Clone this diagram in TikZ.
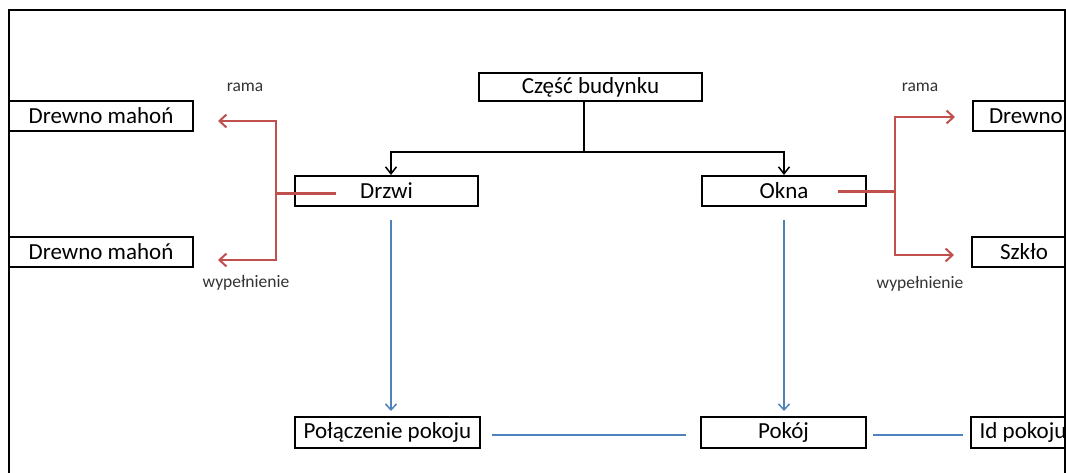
\documentclass[tikz,border=0pt]{standalone}
\usepackage{fontspec}
\setmainfont{Carlito}
\usetikzlibrary{arrows.meta,calc}
\definecolor{ramared}{RGB}{192,80,77}
\definecolor{linkblue}{RGB}{79,129,189}
\begin{document}
\begin{tikzpicture}[x=1pt, y=-1pt,
  box/.style={draw, line width=2pt, minimum height=30pt, inner sep=0pt, font=\fontsize{23}{27}\selectfont},
  lbl/.style={font=\fontsize{17.5}{20}\selectfont, text=black!80},
  redline/.style={draw=ramared, line width=2pt, -{Straight Barb[length=7pt,width=13pt]}},
  blueline/.style={draw=linkblue, line width=1.5pt, -{Straight Barb[length=6pt,width=11pt]}},
  treeline/.style={draw=black, line width=1.5pt, -{Straight Barb[length=7pt,width=11pt]}}]
\useasboundingbox (0,0) rectangle (1066,472);
\clip (0,0) rectangle (1066,472);
\fill[white] (0,0) rectangle (1066,472);
% boxes
\draw(590.5,87) node[box, minimum width=223pt, minimum height=28pt] (czesc) {Część budynku};
\draw(386.5,191) node[box, minimum width=183pt] (drzwi) {Drzwi};
\draw(784,191) node[box, minimum width=164pt] (okna) {Okna};
\draw(101,116) node[box, minimum width=184pt] (mahonA) {Drewno mahoń};
\draw(101,252) node[box, minimum width=184pt] (mahonB) {Drewno mahoń};
\draw(972,116) node[box, anchor=west, text width=150pt, align=left, inner xsep=16pt] (drewno) {Drewno};
\draw(1024,252) node[box, minimum width=104pt] (szklo) {Szkło};
\draw(387.5,432.5) node[box, minimum width=185pt, minimum height=31pt] (polaczenie) {Połączenie pokoju};
\draw(783.5,432.5) node[box, minimum width=165pt, minimum height=31pt] (pokoj) {Pokój};
\draw(1023,432.5) node[box, minimum width=104pt, minimum height=31pt] (idpokoju) {Id pokoju};
% frame
\draw[line width=2pt] (9,10) rectangle (1065,500);
% labels
\draw(245,87) node[lbl] (ramaL) {rama};
\draw(246,283) node[lbl] (wypL) {wypełnienie};
\draw(920,87) node[lbl] (ramaR) {rama};
\draw(920,284) node[lbl] (wypR) {wypełnienie};
% tree
\coordinate (split) at (584,152);
\draw[treeline, -] (split |- czesc.south) -- (split);
\draw[treeline] (split) -| ($(drzwi.north)+(4.5,0)$);
\draw[treeline] (split) -| (okna.north);
% rama / wypelnienie
\coordinate (forkL) at (276,193);
\coordinate (forkR) at (895,191);
\draw[redline, -, line width=3pt] ($(drzwi.west)+(42,2)$) -- (forkL);
\draw[redline] (forkL) |- ($(mahonA.east)+(24,5)$);
\draw[redline] (forkL) |- ($(mahonB.east)+(24,8)$);
\draw[redline, -, line width=3pt] ($(okna.east)+(-29,0)$) -- (forkR);
\draw[redline] (forkR) |- ($(drewno.west)+(-17,1)$);
\draw[redline] (forkR) |- ($(szklo.west)+(-17,3)$);
% pokoj
\draw[blueline] ($(drzwi.south)+(4.5,13)$) -- ($(polaczenie.north)+(3.5,-5)$);
\draw[blueline] ($(okna.south)+(0,13)$) -- ($(pokoj.north)+(0.5,-5)$);
\draw[blueline, -, line width=2pt] ($(polaczenie.east)+(11,2.5)$) -- ($(pokoj.west)+(-14,2.5)$);
\draw[blueline, -, line width=2pt] ($(pokoj.east)+(6,2.5)$) -- ($(idpokoju.west)+(-7,2.5)$);
\end{tikzpicture}
\end{document}
